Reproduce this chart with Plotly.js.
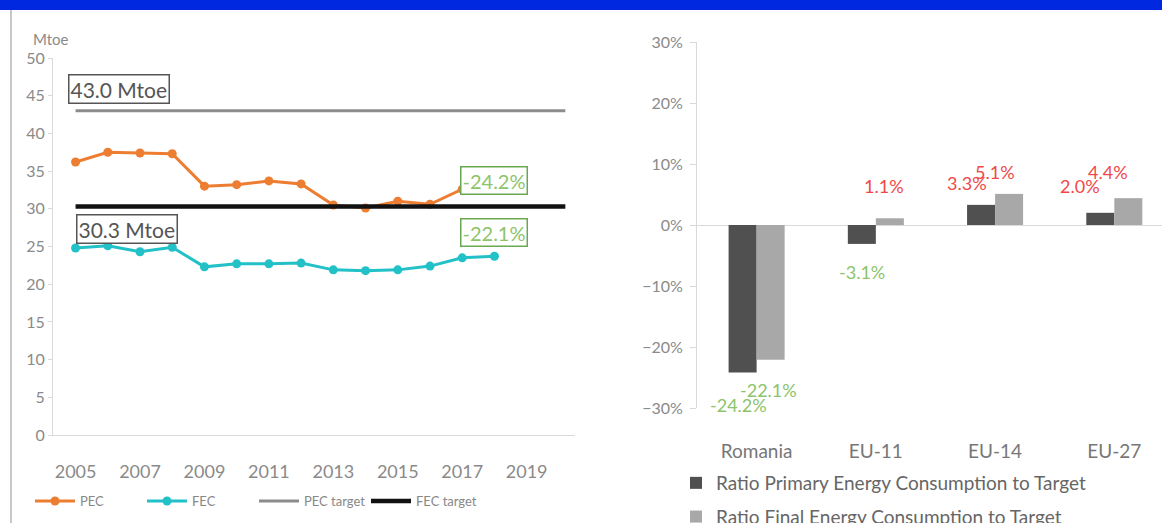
<!DOCTYPE html>
<html><head><meta charset="utf-8">
<script src="https://cdn.plot.ly/plotly-3.0.1.min.js"></script>
<style>html,body{margin:0;padding:0;background:#fff;overflow:hidden;width:1162px;height:523px}#chart{width:1162px;height:545px}</style>
</head><body><div id="chart"></div><script>
// ---- data ----
const years = [2005,2006,2007,2008,2009,2010,2011,2012,2013,2014,2015,2016,2017,2018];
const pec = [36.2,37.5,37.4,37.3,33.0,33.2,33.7,33.3,30.5,30.1,31.0,30.6,32.6,32.6];
const fec = [24.8,25.1,24.3,24.9,22.3,22.7,22.7,22.8,21.9,21.8,21.9,22.4,23.5,23.7];
const targetYears = [2005, 2020.2];
const pecTarget = 43.0;
const fecTarget = 30.3;
const yearTicks = [2005,2007,2009,2011,2013,2015,2017,2019];
const pecTargetLabel = '43.0 Mtoe';
const fecTargetLabel = '30.3 Mtoe';
const pecGapLabel = '-24.2%';
const fecGapLabel = '-22.1%';
const regions = ['Romania','EU-11','EU-14','EU-27'];
const ratioPEC = [-24.2,-3.1,3.3,2.0];
const ratioFEC = [-22.1,1.1,5.1,4.4];

// ---- styling helpers ----
// figure is a little taller than the 523px window so the last legend line is clipped as in the source
const W = 1162, H = 545;
const px = v => v / W;
const py = v => 1 - v / H;
const font = 'Lato, "Open Sans", sans-serif';
const tickGray = '#8a8a8a';
const axisGray = '#d9d9d9';

const traces = [
  {x: years, y: pec, name: 'PEC', type: 'scatter', mode: 'lines+markers',
   line: {color: '#ed7d31', width: 3}, marker: {color: '#ed7d31', size: 9}, xaxis: 'x', yaxis: 'y', legend: 'legend'},
  {x: years, y: fec, name: 'FEC', type: 'scatter', mode: 'lines+markers',
   line: {color: '#22c1c8', width: 3}, marker: {color: '#22c1c8', size: 9}, xaxis: 'x', yaxis: 'y', legend: 'legend'},
  {x: targetYears, y: targetYears.map(() => pecTarget), name: 'PEC target', type: 'scatter', mode: 'lines',
   line: {color: '#8c8c8c', width: 3}, xaxis: 'x', yaxis: 'y', legend: 'legend'},
  {x: targetYears, y: targetYears.map(() => fecTarget), name: 'FEC target', type: 'scatter', mode: 'lines',
   line: {color: '#111111', width: 4.5}, xaxis: 'x', yaxis: 'y', legend: 'legend'},
  {x: regions, y: ratioPEC, name: 'Ratio Primary Energy Consumption to Target', type: 'bar',
   marker: {color: '#505050'}, xaxis: 'x2', yaxis: 'y2', legend: 'legend2', legendgroup: 'a'},
  {x: regions, y: ratioFEC, name: 'Ratio Final Energy Consumption to Target', type: 'bar',
   marker: {color: '#a8a8a8'}, xaxis: 'x2', yaxis: 'y2', legend: 'legend2', legendgroup: 'b'}
];

// bar value labels (placed like the manually-moved Excel labels)
const pecShift = [[-4,-32],[0,-28],[-14,22],[-20,27]];
const fecShift = [[-2,-30],[-6,32],[-14,22],[-20,26]];
const annotations = [];
function addBarLabels(vals, side, shifts) {
  vals.forEach((v, i) => {
    annotations.push({
      xref: 'x2', yref: 'y2', x: regions[i], y: v,
      text: v.toFixed(1) + '%', showarrow: false,
      xshift: side * 14 + shifts[i][0], yshift: shifts[i][1],
      font: {family: font, size: 18, color: v < 0 ? '#8cc46a' : '#f04848'}
    });
  });
}
addBarLabels(ratioPEC, -1, pecShift);
addBarLabels(ratioFEC, 1, fecShift);

// target / gap boxes on the left chart
const boxFont = {family: font, size: 21, color: '#555'};
const gapFont = {family: font, size: 20, color: '#8cc46a'};
annotations.push(
  {xref: 'x', yref: 'y', x: 2004.75, y: 45.9, xanchor: 'left', text: pecTargetLabel, showarrow: false,
   font: boxFont, bordercolor: '#555', borderwidth: 1.5, borderpad: 1, bgcolor: '#fff'},
  {xref: 'x', yref: 'y', x: 2005.0, y: 27.3, xanchor: 'left', text: fecTargetLabel, showarrow: false,
   font: boxFont, bordercolor: '#555', borderwidth: 1.5, borderpad: 1, bgcolor: '#fff'},
  {xref: 'x', yref: 'y', x: 2018.0, y: 33.7, text: pecGapLabel, showarrow: false,
   font: gapFont, bordercolor: '#6aa84f', borderwidth: 1.5, borderpad: 1, bgcolor: '#fff'},
  {xref: 'x', yref: 'y', x: 2018.0, y: 26.9, text: fecGapLabel, showarrow: false,
   font: gapFont, bordercolor: '#6aa84f', borderwidth: 1.5, borderpad: 1, bgcolor: '#fff'},
  {xref: 'paper', yref: 'paper', x: px(31), y: py(39), xanchor: 'left', yanchor: 'middle', text: 'Mtoe', showarrow: false,
   font: {family: font, size: 15, color: tickGray}}
);

const layout = {
  width: W, height: H, margin: {l: 0, r: 0, t: 0, b: 0},
  paper_bgcolor: '#fff', plot_bgcolor: '#fff',
  font: {family: font, color: tickGray},
  barmode: 'group', bargap: 0.53, bargroupgap: 0,
  xaxis: {domain: [px(53), px(575)], range: [2004.3, 2020.5], tickvals: yearTicks,
          showgrid: false, zeroline: false, showline: true, linecolor: axisGray, linewidth: 1,
          ticks: '', ticklabelstandoff: 20, tickfont: {family: font, size: 18, color: tickGray}},
  yaxis: {domain: [py(435), py(58)], range: [0, 50], dtick: 5, anchor: 'x',
          showgrid: false, zeroline: false, showline: true, linecolor: axisGray, linewidth: 1,
          ticks: 'outside', ticklen: 4, tickcolor: axisGray, tickfont: {family: font, size: 16, color: tickGray}},
  xaxis2: {domain: [px(697), 1], range: [-0.5, 3.4], anchor: 'y2', type: 'category',
           showgrid: false, zeroline: false, showline: false, ticks: '', ticklabelstandoff: 30,
           tickfont: {family: font, size: 19, color: '#777'}},
  yaxis2: {domain: [py(408), py(42)], range: [-30, 30], dtick: 10, ticksuffix: '%', anchor: 'x2',
           showgrid: false, zeroline: true, zerolinecolor: axisGray, zerolinewidth: 1,
           showline: true, linecolor: axisGray, linewidth: 1,
           ticks: 'outside', ticklen: 6, tickcolor: axisGray, ticklabelstandoff: 4,
           tickfont: {family: font, size: 16, color: tickGray}},
  legend: {orientation: 'h', x: px(30), y: py(486), xanchor: 'left', yanchor: 'top',
           font: {family: font, size: 13, color: '#888'}, itemwidth: 40, entrywidth: 57,
           bgcolor: 'rgba(0,0,0,0)'},
  legend2: {orientation: 'v', x: px(676), y: py(464), xanchor: 'left', yanchor: 'top',
            font: {family: font, size: 19, color: '#666'}, traceorder: 'grouped', tracegroupgap: 6,
            bgcolor: 'rgba(0,0,0,0)'},
  showlegend: true,
  annotations: annotations,
  shapes: [
    {type: 'rect', xref: 'paper', yref: 'paper', x0: 0, x1: 1, y0: py(10), y1: 1,
     fillcolor: '#0028e0', line: {width: 0}, layer: 'above'},
    {type: 'line', xref: 'paper', yref: 'paper', x0: px(11), x1: px(11), y0: 0, y1: py(10),
     line: {color: '#c8c8c8', width: 2}}
  ]
};

Plotly.newPlot('chart', traces, layout, {displayModeBar: false, staticPlot: true});
</script></body></html>
